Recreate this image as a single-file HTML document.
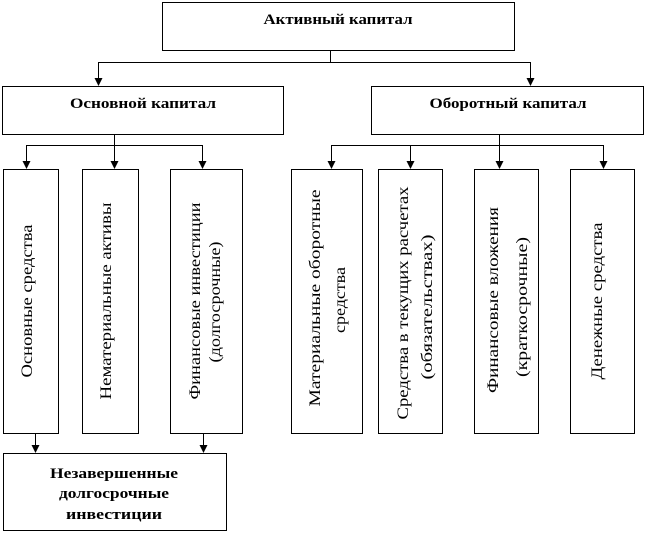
<!DOCTYPE html>
<html><head><meta charset="utf-8"><style>
html,body{margin:0;padding:0;background:#fff;}
svg{display:block;}
text{font-family:"Liberation Serif","Times New Roman",serif;fill:#000;}
.b{font-weight:bold;font-size:15px;}
.v{font-size:16px;}
</style></head><body>
<svg width="646" height="536" viewBox="0 0 646 536" xmlns="http://www.w3.org/2000/svg">
<g fill="none" stroke="#000" stroke-width="1">
<rect x="162.5" y="2.5" width="352" height="48"/>
<rect x="2.5" y="86.5" width="281" height="48"/>
<rect x="371.5" y="86.5" width="272" height="48"/>
<rect x="3.5" y="169.5" width="55" height="264"/>
<rect x="82.5" y="169.5" width="56" height="264"/>
<rect x="170.5" y="169.5" width="72" height="264"/>
<rect x="291.5" y="169.5" width="71" height="264"/>
<rect x="378.5" y="169.5" width="64" height="264"/>
<rect x="474.5" y="169.5" width="64" height="264"/>
<rect x="570.5" y="169.5" width="64" height="264"/>
<rect x="3.5" y="453.5" width="223" height="77"/>
<path d="M330.5,50 V62.5 M98.5,62.5 H530.5 M98.5,62 V80 M530.5,62 V80"/>
<path d="M114.5,134 V145.5 M26.5,145.5 H202.5 M26.5,145 V163 M114.5,145 V163 M202.5,145 V163"/>
<path d="M499.5,134 V145.5 M331.5,145.5 H603.5 M331.5,145 V163 M410.5,145 V163 M499.5,145 V163 M603.5,145 V163"/>
<path d="M35.5,433 V447 M203.5,433 V447"/>
</g>
<g fill="#000">
<polygon points="94.5,78 102.5,78 98.5,86"/>
<polygon points="526.5,78 534.5,78 530.5,86"/>
<polygon points="22.5,161 30.5,161 26.5,169"/>
<polygon points="110.5,161 118.5,161 114.5,169"/>
<polygon points="198.5,161 206.5,161 202.5,169"/>
<polygon points="327.5,161 335.5,161 331.5,169"/>
<polygon points="406.5,161 414.5,161 410.5,169"/>
<polygon points="495.5,161 503.5,161 499.5,169"/>
<polygon points="599.5,161 607.5,161 603.5,169"/>
<polygon points="31.5,445 39.5,445 35.5,453"/>
<polygon points="199.5,445 207.5,445 203.5,453"/>
</g>
<text class="b" x="338" y="24" text-anchor="middle" textLength="149" lengthAdjust="spacingAndGlyphs">Активный капитал</text>
<text class="b" x="143" y="108" text-anchor="middle" textLength="146" lengthAdjust="spacingAndGlyphs">Основной капитал</text>
<text class="b" x="508" y="108" text-anchor="middle" textLength="157" lengthAdjust="spacingAndGlyphs">Оборотный капитал</text>
<text class="b" x="114" y="478" text-anchor="middle" textLength="128" lengthAdjust="spacingAndGlyphs">Незавершенные</text>
<text class="b" x="114" y="498" text-anchor="middle" textLength="110" lengthAdjust="spacingAndGlyphs">долгосрочные</text>
<text class="b" x="114" y="519" text-anchor="middle" textLength="96" lengthAdjust="spacingAndGlyphs">инвестиции</text>
<text class="v" transform="translate(32,301) rotate(-90)" text-anchor="middle" textLength="153" lengthAdjust="spacingAndGlyphs">Основные средства</text>
<text class="v" transform="translate(111,301) rotate(-90)" text-anchor="middle" textLength="197" lengthAdjust="spacingAndGlyphs">Нематериальные активы</text>
<text class="v" transform="translate(200,301) rotate(-90)" text-anchor="middle" textLength="197" lengthAdjust="spacingAndGlyphs">Финансовые инвестиции</text>
<text class="v" transform="translate(220,302) rotate(-90)" text-anchor="middle" textLength="121" lengthAdjust="spacingAndGlyphs">(долгосрочные)</text>
<text class="v" transform="translate(320,298) rotate(-90)" text-anchor="middle" textLength="217" lengthAdjust="spacingAndGlyphs">Материальные оборотные</text>
<text class="v" transform="translate(345,300) rotate(-90)" text-anchor="middle" textLength="66" lengthAdjust="spacingAndGlyphs">средства</text>
<text class="v" transform="translate(408,303) rotate(-90)" text-anchor="middle" textLength="233" lengthAdjust="spacingAndGlyphs">Средства в текущих расчетах</text>
<text class="v" transform="translate(432,307) rotate(-90)" text-anchor="middle" textLength="145" lengthAdjust="spacingAndGlyphs">(обязательствах)</text>
<text class="v" transform="translate(498,300) rotate(-90)" text-anchor="middle" textLength="186" lengthAdjust="spacingAndGlyphs">Финансовые вложения</text>
<text class="v" transform="translate(527,307) rotate(-90)" text-anchor="middle" textLength="140" lengthAdjust="spacingAndGlyphs">(краткосрочные)</text>
<text class="v" transform="translate(602,301) rotate(-90)" text-anchor="middle" textLength="157" lengthAdjust="spacingAndGlyphs">Денежные средства</text>
</svg>
</body></html>
